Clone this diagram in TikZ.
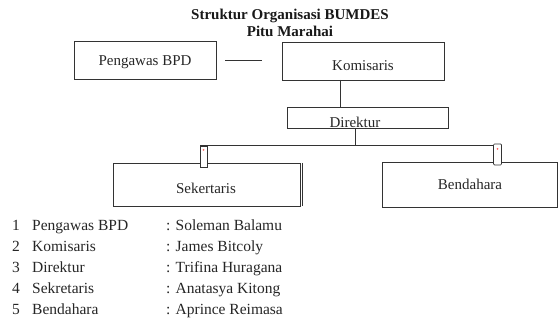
\documentclass[tikz,border=0pt]{standalone}
\usepackage{fontspec}
\setmainfont{Liberation Serif}
\begin{document}
\begin{tikzpicture}[x=1pt,y=-1pt,
  box/.style={draw=black!80,line width=0.9pt},
  lbl/.style={font=\fontsize{15}{16}\selectfont,text=black!85,inner sep=0pt},
  ttl/.style={font=\fontsize{15}{15}\selectfont\bfseries,text=black!90,inner sep=0pt},
  conn/.style={draw=black!80,line width=0.9pt},
  tiny/.style={draw=black!80,line width=0.7pt,fill=white},
  item/.style={font=\fontsize{15.5}{16}\selectfont,text=black!85,inner sep=0pt,anchor=base west}
]
\useasboundingbox (0,0) rectangle (558,320);
% title
\node[ttl] (t1) at (290,16) {Struktur Organisasi BUMDES};
\node[ttl] (t2) at (290,31) {Pitu Marahai};
% boxes
\draw[box] (74,41) rectangle (216,79);
\node[lbl] (peng) at (145,62) {Pengawas BPD};
\draw[box] (282,42) rectangle (444,80);
\node[lbl] (kom) at (363,66) {Komisaris};
\draw[box] (287,107) rectangle (448,128);
\node[lbl] (dir) at (355,122) {Direktur};
\draw[box] (113,163) rectangle (300,206);
\draw[conn] (302,163) -- (302,206);
\node[lbl] (sek) at (206,188) {Sekertaris};
\draw[box] (382,162) rectangle (557,207);
\node[lbl] (ben) at (470,184) {Bendahara};
% connectors
\coordinate (pa) at (225,60);
\coordinate (pb) at (262,60);
\draw[conn] (pa) -- (pb);
\coordinate (kb) at (340,80);
\coordinate (dt) at (340,107);
\draw[conn] (kb) -- (dt);
\coordinate (db) at (355,128);
\coordinate (dj) at (355,145);
\draw[conn] (db) -- (dj);
\coordinate (hl) at (200,145);
\coordinate (hr) at (497,145);
\draw[conn] (hl) -- (hr);
% small markers
\node[tiny,minimum width=7pt,minimum height=21pt,inner sep=0pt] (ml) at (203.5,156.5) {};
\node[tiny,minimum width=8pt,minimum height=21pt,inner sep=0pt,rounded corners=1pt] (mr) at (497.5,154.5) {};
\fill[red!60] (203.5,150) circle (1pt);
\fill[red!60] (497.5,149) circle (1pt);
% list
\foreach \n/\a/\b [count=\i] in {1/Pengawas BPD/Soleman Balamu,2/Komisaris/James Bitcoly,3/Direktur/Trifina Huragana,4/Sekretaris/Anatasya Kitong,5/Bendahara/Aprince Reimasa}{
  \node[item] (n\i) at (12,{226+21*(\i-1)+5}) {\n};
  \node[item] (a\i) at (32,{226+21*(\i-1)+5}) {\a};
  \node[item] (b\i) at (166,{226+21*(\i-1)+5}) {: \b};
}
\end{tikzpicture}
\end{document}
